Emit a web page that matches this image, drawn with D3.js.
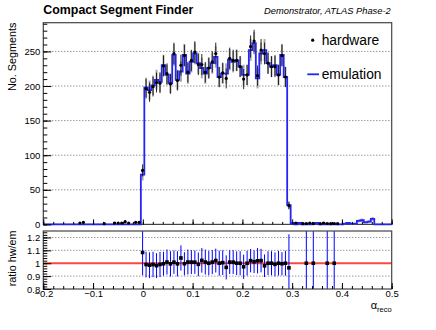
<!DOCTYPE html>
<html>
<head>
<meta charset="utf-8" />
<title>Compact Segment Finder</title>
<script src="https://d3js.org/d3.v7.min.js"></script>
<style>
	body { margin: 0; background: #fff; }
	svg { font-family: "Liberation Sans", Arial, sans-serif; }
</style>
</head>
<body>
<div id="chart"></div>
<script>
	// binning of alpha_reco
	const binLo = -0.2, binHi = 0.5, nBins = 100;

	// counts per bin (index 0..99)
	const emulation = [
		0,0,0,0,0,0,0,0,0,0, 0,0,0,0,0,0,0,0,0,0,
		0,0,0,0,0,0,0,0,72,198, 194,201,209,206,230,216,204,245,209,221,
		245,218,235,247,233,226,218,226,233,242, 213,218,218,238,235,237,228,216,216,252,
		262,211,247,252,233,228,230,216,245,213, 28,2,0,2,0,1,0,1,2,0,
		0,1,0,1,0,0,1,2,1,1, 5,6,3,4,8,0,0,0,0,0
	];
	const hardware = [
		0,0,0,0,0,0,0,0,0,0, 2,3,0,0,0,0,0,1,0,0,
		2,2,2,4,2,0,3,3,78,196, 191,199,205,204,229,218,203,247,208,230,
		244,220,237,249,231,231,220,226,235,247, 213,219,211,240,237,237,228,210,216,257,
		265,215,252,247,233,228,228,216,244,213, 27,0,2,0,1,1,2,1,0,1,
		2,1,1,1,1,0,0,0,0,0, 0,0,0,0,0,0,0,0,0,0
	];

	const xTicks = [-0.2, -0.1, 0, 0.1, 0.2, 0.3, 0.4, 0.5];
	const yTicks = [0, 50, 100, 150, 200, 250];
	const ratioTicks = [0.8, 0.9, 1, 1.1, 1.2];

	const width = 436, height = 330;
	const L = 43.3, R = 391.7;
	const topT = 22.7, topB = 224.4;
	const ratT = 231, ratB = 289;
	const histBlue = "#2424f4";

	const svg = d3.select("#chart")
		.append("svg")
		.attr("width", width)
		.attr("height", height);

	const x = d3.scaleLinear().domain([binLo, binHi]).range([L, R]);
	const y = d3.scaleLinear().domain([0, 291.5]).range([topB, topT]);
	const yr = d3.scaleLinear().domain([0.8, 1.25]).range([ratB, ratT]);

	const binW = (binHi - binLo) / nBins;
	const bins = d3.range(nBins).map(i => ({
		lo: binLo + i * binW,
		hi: binLo + (i + 1) * binW,
		mid: binLo + (i + 0.5) * binW,
		e: emulation[i],
		h: hardware[i]
	}));

	const fmt = d => (d < 0 ? "\u2212" + Math.abs(d) : String(d));

	// ---------- top pad ----------
	svg.append("g")
		.selectAll("line")
		.data(yTicks.filter(v => v > 0))
		.enter()
		.append("line")
		.attr("x1", L).attr("x2", R)
		.attr("y1", d => y(d)).attr("y2", d => y(d))
		.attr("stroke", "#444")
		.attr("stroke-width", 0.8)
		.attr("stroke-dasharray", "1,2");

	svg.append("rect")
		.attr("x", L).attr("y", topT)
		.attr("width", R - L).attr("height", topB - topT)
		.attr("fill", "none")
		.attr("stroke", "#444")
		.attr("stroke-width", 1.2);

	// emulation errors (grey)
	svg.append("g")
		.selectAll("line")
		.data(bins.filter(b => b.e > 0))
		.enter()
		.append("line")
		.attr("x1", d => x(d.mid)).attr("x2", d => x(d.mid))
		.attr("y1", d => y(d.e - Math.sqrt(d.e)))
		.attr("y2", d => y(d.e + Math.sqrt(d.e)))
		.attr("stroke", "#a8a8a8")
		.attr("stroke-width", 2);

	// emulation histogram
	const stepPts = bins.map(b => [b.lo, b.e]);
	stepPts.push([binHi, bins[nBins - 1].e]);
	svg.append("path")
		.datum(stepPts)
		.attr("fill", "none")
		.attr("stroke", histBlue)
		.attr("stroke-width", 1.8)
		.attr("d", d3.line()
			.x(d => x(d[0]))
			.y(d => y(d[1]))
			.curve(d3.curveStepAfter));

	// hardware points
	const hw = bins.filter(b => b.h > 0);
	svg.append("g")
		.selectAll("line")
		.data(hw)
		.enter()
		.append("line")
		.attr("x1", d => x(d.mid)).attr("x2", d => x(d.mid))
		.attr("y1", d => y(d.h - Math.sqrt(d.h)))
		.attr("y2", d => y(d.h + Math.sqrt(d.h)))
		.attr("stroke", "#111")
		.attr("stroke-width", 0.9);
	svg.append("g")
		.selectAll("circle")
		.data(hw)
		.enter()
		.append("circle")
		.attr("cx", d => x(d.mid))
		.attr("cy", d => y(d.h))
		.attr("r", 1.6)
		.attr("fill", "#000");

	// axes of top pad
	svg.append("g")
		.attr("transform", `translate(${L},0)`)
		.call(d3.axisLeft(y).tickValues(yTicks).tickFormat(fmt)
			.tickSizeInner(-8).tickSizeOuter(0).tickPadding(3));
	svg.append("g")
		.attr("transform", `translate(${L},0)`)
		.call(d3.axisLeft(y).tickValues(d3.range(0, 291, 10)).tickFormat("")
			.tickSizeInner(-4).tickSizeOuter(0));
	svg.append("g")
		.attr("transform", `translate(0,${topB})`)
		.call(d3.axisBottom(x).tickValues(xTicks).tickFormat("")
			.tickSizeInner(-5).tickSizeOuter(0));
	svg.append("g")
		.attr("transform", `translate(0,${topB})`)
		.call(d3.axisBottom(x).tickValues(d3.range(36).map(i => -0.2 + i * 0.02)).tickFormat("")
			.tickSizeInner(-2.5).tickSizeOuter(0));

	// ---------- ratio pad ----------
	svg.append("clipPath").attr("id", "ratioClip")
		.append("rect")
		.attr("x", L).attr("y", ratT)
		.attr("width", R - L).attr("height", ratB - ratT);

	svg.append("g")
		.selectAll("line")
		.data([0.9, 1.1, 1.2])
		.enter()
		.append("line")
		.attr("x1", L).attr("x2", R)
		.attr("y1", d => yr(d)).attr("y2", d => yr(d))
		.attr("stroke", "#444")
		.attr("stroke-width", 0.8)
		.attr("stroke-dasharray", "1,2");

	svg.append("line")
		.attr("x1", L).attr("x2", R)
		.attr("y1", yr(1)).attr("y2", yr(1))
		.attr("stroke", "#ff4545")
		.attr("stroke-width", 2);

	const ratio = bins.filter(b => b.e > 0 && b.h > 0).map(b => {
		const r = b.h / b.e;
		return { mid: b.mid, r: r, err: r * Math.sqrt(1 / b.h + 1 / b.e) };
	});

	const rg = svg.append("g").attr("clip-path", "url(#ratioClip)");
	rg.selectAll("line")
		.data(ratio)
		.enter()
		.append("line")
		.attr("x1", d => x(d.mid)).attr("x2", d => x(d.mid))
		.attr("y1", d => yr(d.r - d.err))
		.attr("y2", d => yr(d.r + d.err))
		.attr("stroke", "#0000ff")
		.attr("stroke-width", 1);
	rg.selectAll("rect")
		.data(ratio)
		.enter()
		.append("rect")
		.attr("x", d => x(d.mid) - 1.8)
		.attr("y", d => yr(d.r) - 1.8)
		.attr("width", 3.6).attr("height", 3.6)
		.attr("fill", "#000");

	svg.append("rect")
		.attr("x", L).attr("y", ratT)
		.attr("width", R - L).attr("height", ratB - ratT)
		.attr("fill", "none")
		.attr("stroke", "#444")
		.attr("stroke-width", 1.2);

	svg.append("g")
		.attr("transform", `translate(${L},0)`)
		.call(d3.axisLeft(yr).tickValues(ratioTicks).tickFormat(fmt)
			.tickSizeInner(-8).tickSizeOuter(0).tickPadding(3));
	svg.append("g")
		.attr("transform", `translate(${L},0)`)
		.call(d3.axisLeft(yr).tickValues(d3.range(23).map(i => 0.8 + i * 0.02)).tickFormat("")
			.tickSizeInner(-4).tickSizeOuter(0));
	svg.append("g")
		.attr("transform", `translate(0,${ratB})`)
		.call(d3.axisBottom(x).tickValues(xTicks).tickFormat(fmt)
			.tickSizeInner(-6).tickSizeOuter(0).tickPadding(1.5));
	svg.append("g")
		.attr("transform", `translate(0,${ratB})`)
		.call(d3.axisBottom(x).tickValues(d3.range(36).map(i => -0.2 + i * 0.02)).tickFormat("")
			.tickSizeInner(-3).tickSizeOuter(0));

	svg.selectAll(".domain").remove();
	svg.selectAll(".tick text")
		.attr("font-family", "Liberation Sans, Arial, sans-serif")
		.attr("font-size", 9.5)
		.attr("fill", "#000");

	// ---------- texts ----------
	svg.append("text")
		.attr("x", L).attr("y", 13.5)
		.attr("font-size", 12.4)
		.attr("font-weight", "bold")
		.text("Compact Segment Finder");
	svg.append("text")
		.attr("x", 390.7).attr("y", 13.5)
		.attr("text-anchor", "end")
		.attr("font-size", 9.3)
		.attr("font-style", "italic")
		.text("Demonstrator, ATLAS Phase-2");

	svg.append("text")
		.attr("transform", `translate(16.3,${topT}) rotate(-90)`)
		.attr("text-anchor", "end")
		.attr("font-size", 10.8)
		.text("No. Segments");
	svg.append("text")
		.attr("transform", `translate(16.3,${ratT - 0.5}) rotate(-90)`)
		.attr("text-anchor", "end")
		.attr("font-size", 10.8)
		.text("ratio hw/em");

	const xt = svg.append("text")
		.attr("x", R).attr("y", 309)
		.attr("text-anchor", "end");
	xt.append("tspan").attr("font-size", 11).text("\u03b1");
	xt.append("tspan").attr("font-size", 7.5).attr("dy", 2.6).text("reco");

	// legend
	svg.append("circle")
		.attr("cx", 312.7).attr("cy", 40.2)
		.attr("r", 1.6)
		.attr("fill", "#000");
	svg.append("text")
		.attr("x", 321.7).attr("y", 44.8)
		.attr("font-size", 13.8)
		.text("hardware");
	svg.append("line")
		.attr("x1", 307.3).attr("x2", 319)
		.attr("y1", 74.3).attr("y2", 74.3)
		.attr("stroke", histBlue)
		.attr("stroke-width", 1.8);
	svg.append("text")
		.attr("x", 321.7).attr("y", 79.2)
		.attr("font-size", 13.8)
		.text("emulation");
</script>
</body>
</html>
